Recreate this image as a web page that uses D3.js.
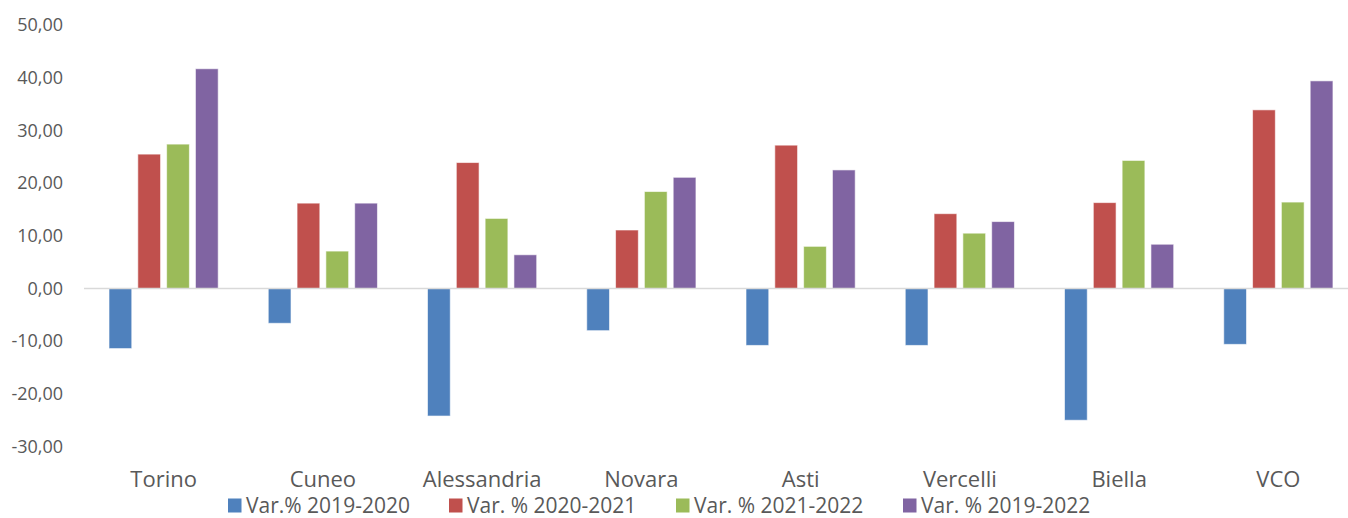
<!DOCTYPE html>
<html>
<head>
<meta charset="utf-8">
<script src="https://cdn.jsdelivr.net/npm/d3@7"></script>
<style>
  body { margin: 0; background: #fff; }
  text { font-family: "Open Sans", sans-serif; fill: #595959; }
</style>
</head>
<body>
<div id="chart"></div>
<script>
// Province di Piemonte, variazioni percentuali
const categories = ["Torino", "Cuneo", "Alessandria", "Novara", "Asti", "Vercelli", "Biella", "VCO"];
const seriesNames = ["Var.% 2019-2020", "Var. % 2020-2021", "Var. % 2021-2022", "Var. % 2019-2022"];
const var1920 = [-11.4, -6.6, -24.2, -8.0, -10.8, -10.8, -25.0, -10.6];
const var2021 = [25.5, 16.2, 23.9, 11.1, 27.2, 14.2, 16.3, 33.9];
const var2122 = [27.4, 7.1, 13.3, 18.4, 8.0, 10.5, 24.3, 16.4];
const var1922 = [41.7, 16.2, 6.4, 21.1, 22.5, 12.7, 8.4, 39.4];
const yTicks = [-30, -20, -10, 0, 10, 20, 30, 40, 50];
const colors = ["#4F81BD", "#C0504D", "#9BBB59", "#8064A2"];

const allSeries = [var1920, var2021, var2122, var1922];

const width = 1348, height = 518;

const svg = d3.select("#chart")
              .append("svg")
              .attr("width", width)
              .attr("height", height);

const x0 = d3.scaleBand()
             .domain(categories)
             .range([84, 1358]);

const x1 = d3.scaleBand()
             .domain(d3.range(seriesNames.length))
             .range([25, 134.2])
             .paddingInner(0.21);

const y = d3.scaleLinear()
            .domain([-30, 50])
            .range([446.6, 25]);

// y axis labels (comma decimals, plain hyphen for negatives)
const yAxis = svg.append("g")
   .attr("transform", "translate(63,0)")
   .call(d3.axisLeft(y).tickValues(yTicks).tickSize(0).tickPadding(0)
           .tickFormat(d => d.toFixed(2).replace(".", ",")));
yAxis.select(".domain").remove();
yAxis.selectAll("text")
     .attr("font-size", 18)
     .style("font-family", "'Open Sans', sans-serif")
     .attr("fill", "#595959");

// bars
const groups = svg.append("g")
   .selectAll("g")
   .data(categories)
   .enter()
   .append("g")
   .attr("transform", d => `translate(${x0(d)},0)`);

groups.selectAll("rect")
      .data((d, i) => allSeries.map((s, k) => ({k: k, v: s[i]})))
      .enter()
      .append("rect")
      .attr("x", d => x1(d.k))
      .attr("width", x1.bandwidth())
      .attr("y", d => y(Math.max(0, d.v)))
      .attr("height", d => Math.abs(y(d.v) - y(0)))
      .attr("fill", d => colors[d.k])
      .attr("stroke", "#fff")
      .attr("stroke-opacity", 0.6)
      .attr("stroke-width", 1);

// zero line
svg.append("line")
   .attr("x1", 84).attr("x2", width)
   .attr("y1", y(0)).attr("y2", y(0))
   .attr("stroke", "#D9D9D9")
   .attr("stroke-width", 1.5);

// category labels
const xAxis = svg.append("g")
   .attr("transform", "translate(0,486.7)")
   .call(d3.axisBottom(x0).tickSize(0).tickPadding(0));
xAxis.select(".domain").remove();
xAxis.selectAll("text")
     .attr("dy", 0)
     .attr("font-size", 22)
     .style("font-family", "'Open Sans', sans-serif")
     .attr("fill", "#595959");

// legend
const legendX = [228, 449, 676, 903];
const legend = svg.append("g")
   .selectAll("g")
   .data(seriesNames)
   .enter()
   .append("g")
   .attr("transform", (d, i) => `translate(${legendX[i]},0)`);

legend.append("rect")
      .attr("x", 0).attr("y", 498.5)
      .attr("width", 13.5).attr("height", 14)
      .attr("fill", (d, i) => colors[i]);

legend.append("text")
      .attr("x", 18).attr("y", 512.5)
      .attr("font-size", 21)
      .text(d => d);
</script>
</body>
</html>
